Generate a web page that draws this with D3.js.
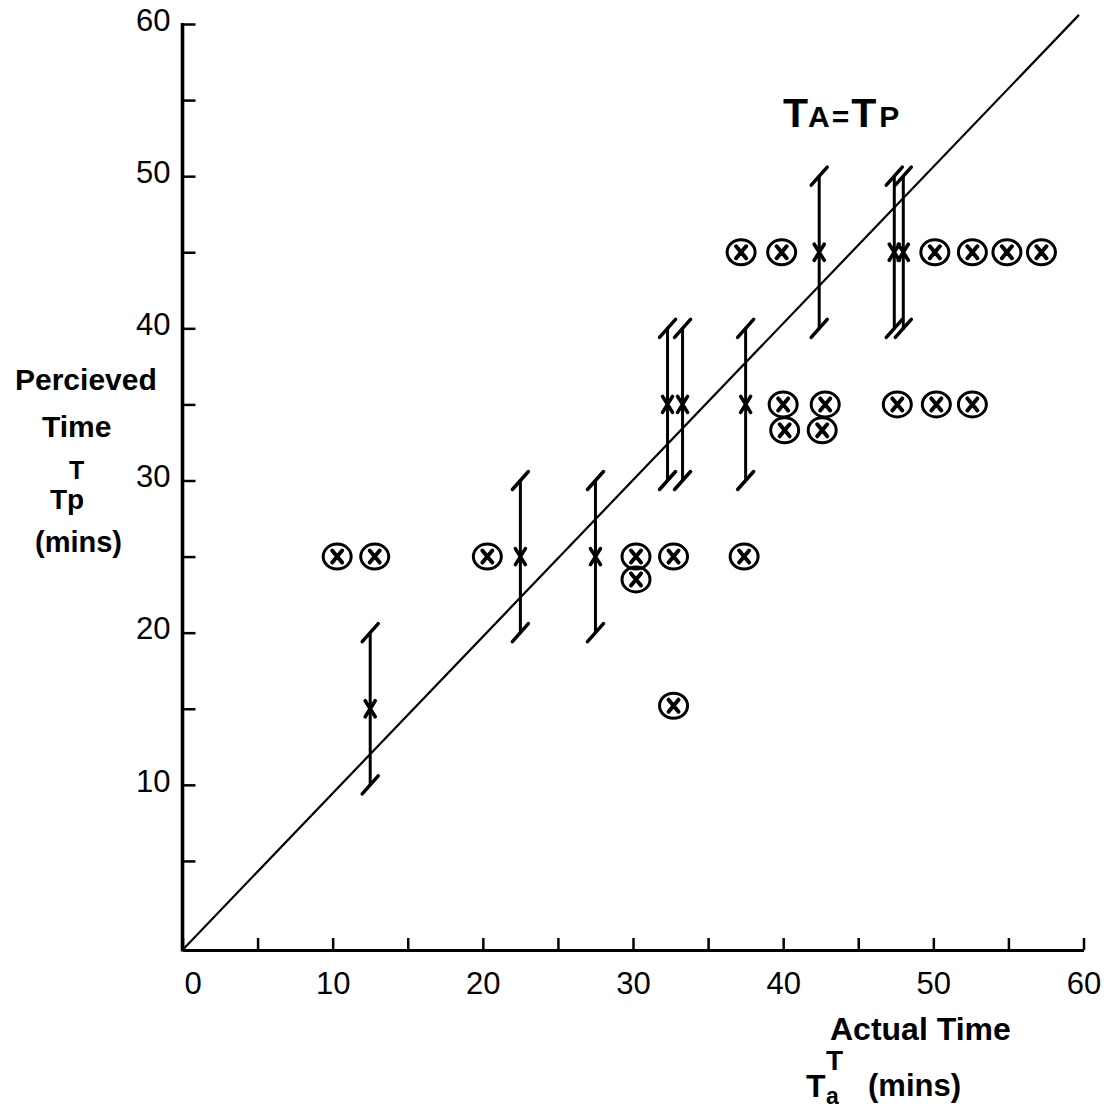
<!DOCTYPE html>
<html>
<head>
<meta charset="utf-8">
<title>Perceived vs Actual Time</title>
<script src="https://cdn.jsdelivr.net/npm/d3@7"></script>
<style>
    body { margin: 0; background: #fff; }
    svg { display: block; font-family: "Liberation Sans", Arial, sans-serif; }
    .lbl { font-weight: bold; fill: #000; }
</style>
</head>
<body>
<div id="chart"></div>
<script>

// Error bar groups (actual time, mean perceived, low, high)
var barActual = [12.5, 22.5, 27.5, 32.3, 33.3, 37.5, 42.4, 47.4, 48.0];
var barMean   = [15, 25, 25, 35, 35, 35, 45, 45, 45];
var barLow    = [10, 20, 20, 30, 30, 30, 40, 40, 40];
var barHigh   = [20, 30, 30, 40, 40, 40, 50, 50, 50];

// Circled individual points
var ptActual    = [10.3, 12.8, 20.3, 30.2, 32.7, 37.4, 30.2, 32.7,
                   37.2, 39.9, 50.1, 52.6, 54.9, 57.2,
                   40.0, 42.8, 47.6, 50.2, 52.6, 40.1, 42.6];
var ptPerceived = [25, 25, 25, 25, 25, 25, 23.5, 15.2,
                   45, 45, 45, 45, 45, 45,
                   35, 35, 35, 35, 35, 33.3, 33.3];

// T_A = T_P reference line
var lineActual    = [0, 59.7];
var linePerceived = [-0.85, 60.6];

var tickValues  = [5, 10, 15, 20, 25, 30, 35, 40, 45, 50, 55, 60];
var xLabelTicks = [0, 10, 20, 30, 40, 50, 60];

var W = 1109, H = 1113;
var plotBottom = 950;

var x = d3.scaleLinear().domain([0, 60]).range([182.5, 1083.5]);
var y = d3.scaleLinear().domain([0, 60]).range([937, 24]);

var svg = d3.select("#chart").append("svg")
    .attr("width", W).attr("height", H);
svg.append("rect").attr("width", W).attr("height", H).attr("fill", "#fff");

// X axis
var xAxis = d3.axisBottom(x)
    .tickValues([0].concat(tickValues))
    .tickSizeInner(-12).tickSizeOuter(0).tickPadding(22)
    .tickFormat(function(d) { return xLabelTicks.indexOf(d) >= 0 ? d : ""; });
var gx = svg.append("g")
    .attr("transform", "translate(0," + plotBottom + ")")
    .call(xAxis);
gx.select(".domain").attr("stroke-width", 3.2);
gx.selectAll(".tick line").attr("stroke-width", 2.5);
gx.selectAll(".tick text").attr("font-size", 31).attr("fill", "#000")
    .attr("dx", function(d) { return d === 0 ? 10 : 0; });

// Y axis
var yAxis = d3.axisLeft(y)
    .tickValues(tickValues)
    .tickSizeInner(-13).tickSizeOuter(0).tickPadding(12)
    .tickFormat(function(d) { return d % 10 === 0 ? d : ""; });
var gy = svg.append("g")
    .attr("transform", "translate(" + x(0) + ",0)")
    .call(yAxis);
gy.select(".domain").remove();
gy.selectAll(".tick line").attr("stroke-width", 2.5);
gy.selectAll(".tick text").attr("font-size", 31).attr("fill", "#000").attr("dy", "0.2em");
svg.append("line")
    .attr("x1", x(0)).attr("x2", x(0))
    .attr("y1", plotBottom + 1.5).attr("y2", y(60) - 1)
    .attr("stroke", "#000").attr("stroke-width", 3.6);

// Reference line
svg.append("line")
    .attr("x1", x(lineActual[0])).attr("y1", y(linePerceived[0]))
    .attr("x2", x(lineActual[1])).attr("y2", y(linePerceived[1]))
    .attr("stroke", "#000").attr("stroke-width", 2.2);

// Error bars
var bars = svg.append("g").selectAll("g")
    .data(barActual.map(function(a, i) {
        return { a: a, m: barMean[i], lo: barLow[i], hi: barHigh[i] };
    }))
    .enter().append("g")
    .attr("stroke", "#000").attr("stroke-linecap", "round");

bars.append("line")
    .attr("x1", function(d) { return x(d.a); }).attr("x2", function(d) { return x(d.a); })
    .attr("y1", function(d) { return y(d.lo); }).attr("y2", function(d) { return y(d.hi); })
    .attr("stroke-width", 3);

// slanted caps at both ends
["hi", "lo"].forEach(function(k) {
    bars.append("line")
        .attr("x1", function(d) { return x(d.a) - 8; })
        .attr("y1", function(d) { return y(d[k]) + 9; })
        .attr("x2", function(d) { return x(d.a) + 8; })
        .attr("y2", function(d) { return y(d[k]) - 9; })
        .attr("stroke-width", 3.5);
});

// crosses at the mean
bars.append("path")
    .attr("d", function(d) {
        var cx = x(d.a), cy = y(d.m);
        return "M" + (cx - 5) + "," + (cy - 8) + "L" + (cx + 5) + "," + (cy + 8) +
               "M" + (cx + 5) + "," + (cy - 8) + "L" + (cx - 5) + "," + (cy + 8);
    })
    .attr("stroke-width", 3.6).attr("fill", "none");

// Circled crosses
var pts = svg.append("g").selectAll("g")
    .data(ptActual.map(function(a, i) { return { a: a, p: ptPerceived[i] }; }))
    .enter().append("g")
    .attr("transform", function(d) { return "translate(" + x(d.a) + "," + y(d.p) + ")"; })
    .attr("stroke", "#000");

pts.append("ellipse")
    .attr("rx", 14).attr("ry", 12.5)
    .attr("fill", "none").attr("stroke-width", 3);
pts.append("path")
    .attr("d", "M-5,-6L5,6M5,-6L-5,6")
    .attr("stroke-width", 4).attr("stroke-linecap", "round").attr("fill", "none");

// Axis titles
var t = svg.append("g").attr("class", "lbl");
t.append("text").attr("x", 15).attr("y", 390).attr("font-size", 30).text("Percieved");
t.append("text").attr("x", 42).attr("y", 437).attr("font-size", 30).text("Time");
t.append("text").attr("x", 69).attr("y", 479).attr("font-size", 25).text("T");
t.append("text").attr("x", 50).attr("y", 509).attr("font-size", 28).text("Tp");
t.append("text").attr("x", 35).attr("y", 552).attr("font-size", 29).text("(mins)");

t.append("text").attr("x", 830).attr("y", 1040).attr("font-size", 32).text("Actual Time");
t.append("text").attr("x", 826).attr("y", 1070).attr("font-size", 28).text("T");
t.append("text").attr("x", 806).attr("y", 1097).attr("font-size", 32).text("T");
t.append("text").attr("x", 826).attr("y", 1104).attr("font-size", 23).text("a");
t.append("text").attr("x", 868).attr("y", 1096).attr("font-size", 31).text("(mins)");

// T_A = T_P label
var eq = t.append("text").attr("x", 783).attr("y", 127);
eq.append("tspan").attr("font-size", 41).text("T");
eq.append("tspan").attr("font-size", 30).text("A");
eq.append("tspan").attr("font-size", 30).attr("dx", 2).text("=");
eq.append("tspan").attr("font-size", 41).attr("dx", 2).text("T");
eq.append("tspan").attr("font-size", 30).attr("dx", 3).text("P");

</script>
</body>
</html>
